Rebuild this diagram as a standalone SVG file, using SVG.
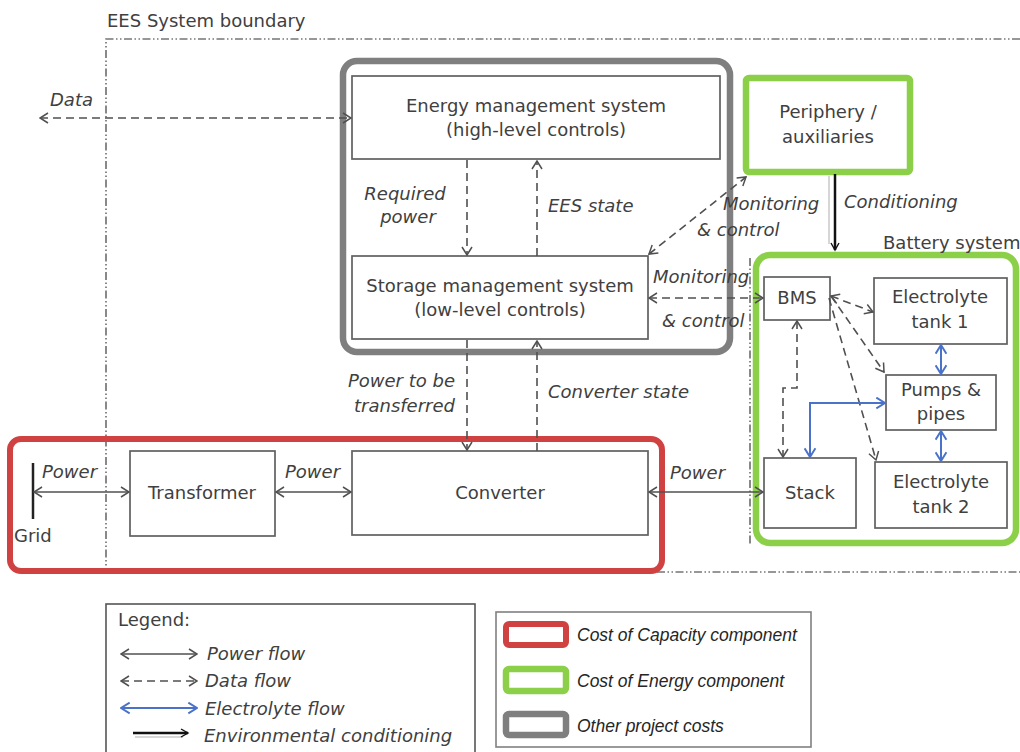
<svg xmlns="http://www.w3.org/2000/svg" width="1020" height="752" viewBox="0 0 1020 752">
<defs>
<marker id="ah" viewBox="0 0 10 12" refX="9" refY="6" markerWidth="10" markerHeight="12" markerUnits="userSpaceOnUse" orient="auto-start-reverse">
<path d="M1,1 L9,6 L1,11" fill="none" stroke="#505050" stroke-width="1.5"/>
</marker>
<marker id="ahb" viewBox="0 0 10 12" refX="9" refY="6" markerWidth="11" markerHeight="13" markerUnits="userSpaceOnUse" orient="auto-start-reverse">
<path d="M1,1 L9,6 L1,11" fill="none" stroke="#4a72c8" stroke-width="1.8"/>
</marker>
<marker id="ahk" viewBox="0 0 10 10" refX="8" refY="5" markerWidth="10" markerHeight="10" markerUnits="userSpaceOnUse" orient="auto">
<path d="M1,1 L8,5 L1,9" fill="none" stroke="#111" stroke-width="1.4"/>
</marker>
</defs>
<style>
text{font-family:"DejaVu Sans",Verdana,sans-serif;font-size:18px;fill:#404040}
.it{font-style:italic}
.mid{text-anchor:middle}
.cal{font-family:"Liberation Sans",Arial,sans-serif;font-style:italic;font-size:17.5px;fill:#262626}
.box{fill:#fff;stroke:#606060;stroke-width:1.7}
.bnd{fill:none;stroke:#757575;stroke-width:1.7;stroke-dasharray:8 2.5 1.5 2.5 1.5 2.5}
.pw{fill:none;stroke:#505050;stroke-width:1.6;marker-start:url(#ah);marker-end:url(#ah)}
.dt{fill:none;stroke:#505050;stroke-width:1.6;stroke-dasharray:8 5}
.dt2{marker-start:url(#ah);marker-end:url(#ah)}
.dte{marker-end:url(#ah)}
.el{fill:none;stroke:#4a72c8;stroke-width:2;marker-start:url(#ahb);marker-end:url(#ahb)}
.red{fill:none;stroke:#d04242;stroke-width:6}
.grn{fill:none;stroke:#8cd04a;stroke-width:6.5}
.gry{fill:none;stroke:#7f7f7f;stroke-width:6.5}
</style>

<g id="boundary">
<path class="bnd" d="M1020,39 L106,39 L106,572 L1020,572"/>
<text x="107" y="27">EES System boundary</text>
</g>

<g id="group-other-costs">
<rect class="gry" x="343" y="61" width="387" height="291" rx="14"/>
</g>
<g id="group-capacity">
<rect class="red" x="10" y="439" width="652" height="132" rx="11"/>
</g>
<g id="battery-system">
<path class="bnd" d="M750,258 L750,545"/>
<rect class="grn" x="756" y="255" width="260" height="288" rx="14"/>
<text x="883" y="249">Battery system</text>
</g>

<g id="ems">
<rect class="box" x="352" y="76" width="368" height="83"/>
<text class="mid" x="536" y="112">Energy management system</text>
<text class="mid" x="536" y="136">(high-level controls)</text>
</g>
<g id="sms">
<rect class="box" x="352" y="256" width="296" height="83"/>
<text class="mid" x="500" y="292">Storage management system</text>
<text class="mid" x="500" y="316">(low-level controls)</text>
</g>
<g id="periphery">
<rect x="746" y="78" width="164" height="94" fill="#fff"/>
<rect class="grn" x="746" y="78" width="164" height="94" rx="3"/>
<text class="mid" x="828" y="118">Periphery /</text>
<text class="mid" x="828" y="143">auxiliaries</text>
</g>
<g id="transformer">
<rect class="box" x="130" y="451" width="145" height="85"/>
<text class="mid" x="202" y="499">Transformer</text>
</g>
<g id="converter">
<rect class="box" x="352" y="451" width="296" height="84"/>
<text class="mid" x="500" y="499">Converter</text>
</g>
<g id="grid">
<line x1="33" y1="463" x2="33" y2="519" stroke="#222" stroke-width="2.5"/>
<text x="14" y="542">Grid</text>
</g>
<g id="bms">
<rect class="box" x="764" y="277" width="66" height="43"/>
<text class="mid" x="797" y="304">BMS</text>
</g>
<g id="tank1">
<rect class="box" x="874" y="278" width="133" height="66"/>
<text class="mid" x="940" y="303">Electrolyte</text>
<text class="mid" x="940" y="328">tank 1</text>
</g>
<g id="pumps">
<rect class="box" x="886" y="375" width="110" height="55"/>
<text class="mid" x="941" y="396">Pumps &amp;</text>
<text class="mid" x="941" y="420">pipes</text>
</g>
<g id="stack">
<rect class="box" x="764" y="458" width="92" height="70"/>
<text class="mid" x="810" y="499">Stack</text>
</g>
<g id="tank2">
<rect class="box" x="875" y="462" width="132" height="66"/>
<text class="mid" x="941" y="488">Electrolyte</text>
<text class="mid" x="941" y="513">tank 2</text>
</g>

<g id="connectors">
<path class="dt dt2" d="M40,118 L351,118"/>
<text class="it" x="50" y="106">Data</text>
<path class="dt dte" d="M467,160 L467,255"/>
<text class="it mid" x="405" y="200">Required</text>
<text class="it mid" x="408" y="223">power</text>
<path class="dt dte" d="M537,256 L537,161"/>
<text class="it" x="548" y="212">EES state</text>
<path class="dt dt2" d="M649,254 L746,177"/>
<text class="it" x="723" y="210">Monitoring</text>
<text class="it" x="697" y="236">&amp; control</text>
<path class="dt dt2" d="M649,298 L763,298"/>
<text class="it" x="653" y="283">Monitoring</text>
<text class="it" x="662" y="327">&amp; control</text>
<line x1="829" y1="176" x2="829" y2="244" stroke="#c8c8c8" stroke-width="1.5"/>
<line x1="835" y1="174" x2="835" y2="250" stroke="#111" stroke-width="2.5" marker-end="url(#ahk)"/>
<text class="it" x="844" y="208">Conditioning</text>
<path class="dt dte" d="M467,340 L467,450"/>
<text class="it" x="455" y="387" text-anchor="end">Power to be</text>
<text class="it" x="455" y="412" text-anchor="end">transferred</text>
<path class="dt dte" d="M537,451 L537,341"/>
<text class="it" x="548" y="398">Converter state</text>
<path class="pw" d="M34,492 L129,492"/>
<text class="it" x="42" y="478">Power</text>
<path class="pw" d="M276,492 L351,492"/>
<text class="it" x="285" y="478">Power</text>
<path class="pw" d="M649,492 L763,492"/>
<text class="it" x="670" y="479">Power</text>
<path class="dt dt2" d="M831,296 L873,312"/>
<path class="dt dte" d="M831,296 L884,372"/>
<path class="dt dte" d="M829,298 L876,460"/>
<path class="dt dt2" d="M797,321 L797,388 L783,388 L783,457"/>
<path class="el" d="M941,345 L941,374"/>
<path class="el" d="M941,431 L941,461"/>
<path class="el" d="M810,457 L810,403 L885,403"/>
</g>

<g id="legend">
<rect x="106" y="604" width="369" height="160" fill="#fff" stroke="#555" stroke-width="1.6"/>
<text x="118" y="626">Legend:</text>
<path class="pw" d="M121,654 L197,654"/>
<text class="it" x="207" y="660">Power flow</text>
<path class="dt dt2" d="M121,681 L197,681" stroke-dasharray="7 4"/>
<text class="it" x="205" y="687">Data flow</text>
<path class="el" d="M121,708 L197,708"/>
<text class="it" x="205" y="715">Electrolyte flow</text>
<line x1="135" y1="737" x2="183" y2="737" stroke="#c8c8c8" stroke-width="1.5"/>
<line x1="133" y1="733" x2="188" y2="733" stroke="#111" stroke-width="2.5" marker-end="url(#ahk)"/>
<text class="it" x="204" y="742">Environmental conditioning</text>
</g>
<g id="cost-legend">
<rect x="496" y="612" width="315" height="135" fill="#fff" stroke="#808080" stroke-width="1.6"/>
<rect class="red" x="506" y="624" width="60" height="21" rx="3"/>
<text class="cal" x="577" y="641">Cost of Capacity component</text>
<rect class="grn" x="506" y="669" width="60" height="22" rx="3"/>
<text class="cal" x="577" y="687">Cost of Energy component</text>
<rect class="gry" x="506" y="714" width="60" height="21" rx="3"/>
<text class="cal" x="577" y="732">Other project costs</text>
</g>
</svg>
